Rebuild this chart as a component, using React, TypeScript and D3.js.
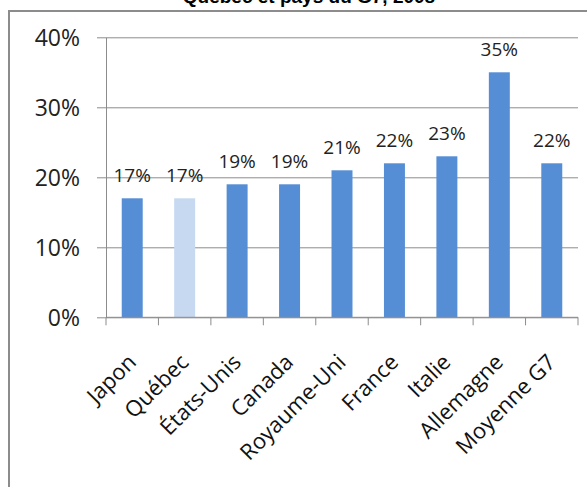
import { useEffect, useRef } from "react"
import * as d3 from "d3"

const categories = ["Japon", "Québec", "États-Unis", "Canada", "Royaume-Uni", "France", "Italie", "Allemagne", "Moyenne G7"]
const values = [17, 17, 19, 19, 21, 22, 23, 35, 22]
const highlighted = ["Québec"]
const yTicks = [0, 10, 20, 30, 40]
const title = "Québec et pays du G7, 2008"

const width = 587
const height = 487
const font = "'Open Sans', 'Noto Sans', sans-serif"

export default function App() {
  const svgRef = useRef<SVGSVGElement | null>(null)

  useEffect(() => {
    if (!svgRef.current) return
    const svg = d3.select(svgRef.current)
    svg.selectAll("*").remove()

    const plot = { left: 106, right: 578, top: 37.3, bottom: 317.3 }

    const x = d3.scaleBand<string>().domain(categories).range([plot.left, plot.right]).paddingInner(0.6).paddingOuter(0.3)
    const band = d3.scaleBand<string>().domain(categories).range([plot.left, plot.right])
    const y = d3.scaleLinear().domain([0, 40]).range([plot.bottom, plot.top])

    // frame (runs past the right and bottom edges, like the cropped source)
    svg
      .append("rect")
      .attr("x", 9)
      .attr("y", 11)
      .attr("width", width + 20)
      .attr("height", height + 20)
      .attr("fill", "#fff")
      .attr("stroke", "#8c8c8c")
      .attr("stroke-width", 2)

    // title is cropped at the top in the source picture
    svg
      .append("text")
      .attr("x", 309)
      .attr("y", 3)
      .attr("text-anchor", "middle")
      .attr("font-family", "'Liberation Sans', Arial, sans-serif")
      .attr("font-weight", "bold")
      .attr("font-size", 19)
      .attr("fill", "#000")
      .text(title)

    // gridlines + y axis
    const yAxis = d3
      .axisLeft(y)
      .tickValues(yTicks)
      .tickSize(-(plot.right - plot.left))
      .tickSizeOuter(0)
      .tickPadding(26)
      .tickFormat((d) => `${d}%`)

    svg
      .append("g")
      .attr("transform", `translate(${plot.left},0)`)
      .call(yAxis)
      .call((g) => g.select(".domain").attr("stroke", "#8c8c8c"))
      .call((g) => g.selectAll(".tick line").attr("stroke", "#8c8c8c").attr("x1", -9))
      .call((g) =>
        g.selectAll(".tick text").attr("font-family", font).attr("font-size", 23).attr("fill", "#222").attr("dy", "0.36em")
      )

    // bars
    svg
      .append("g")
      .selectAll("rect")
      .data(categories)
      .join("rect")
      .attr("x", (d) => x(d) ?? 0)
      .attr("y", (_, i) => y(values[i]))
      .attr("width", x.bandwidth())
      .attr("height", (_, i) => y(0) - y(values[i]))
      .attr("fill", (d) => (highlighted.includes(d) ? "#c6d9f1" : "#558ed5"))

    svg
      .append("g")
      .selectAll("text")
      .data(categories)
      .join("text")
      .attr("x", (d) => (x(d) ?? 0) + x.bandwidth() / 2)
      .attr("y", (_, i) => y(values[i]) - 16)
      .attr("text-anchor", "middle")
      .attr("font-family", font)
      .attr("font-size", 19)
      .attr("fill", "#222")
      .text((_, i) => `${values[i]}%`)

    // x axis
    const xAxis = d3.axisBottom(band).tickSize(0).tickFormat(() => "")
    const gx = svg.append("g").attr("transform", `translate(0,${plot.bottom})`).call(xAxis)
    gx.select(".domain").remove()
    gx.append("line").attr("x1", plot.left).attr("x2", plot.right).attr("stroke", "#8c8c8c")
    const edges = [...categories.map((c) => band(c) ?? 0), plot.right]
    gx.selectAll(".edge")
      .data(edges)
      .join("line")
      .attr("class", "edge")
      .attr("x1", (d) => d)
      .attr("x2", (d) => d)
      .attr("y1", 0)
      .attr("y2", 8)
      .attr("stroke", "#8c8c8c")

    gx.selectAll(".cat")
      .data(categories)
      .join("text")
      .attr("class", "cat")
      .attr("transform", (d) => `translate(${(band(d) ?? 0) + band.bandwidth() / 2 - 6},${35}) rotate(-45)`)
      .attr("text-anchor", "end")
      .attr("dy", "0.72em")
      .attr("font-family", font)
      .attr("font-size", 22)
      .attr("fill", "#111")
      .text((d) => d)
  }, [])

  return (
    <div style={{ position: "absolute", left: 0, top: 0 }}>
      <svg ref={svgRef} width={width} height={height} style={{ display: "block" }} />
    </div>
  )
}
